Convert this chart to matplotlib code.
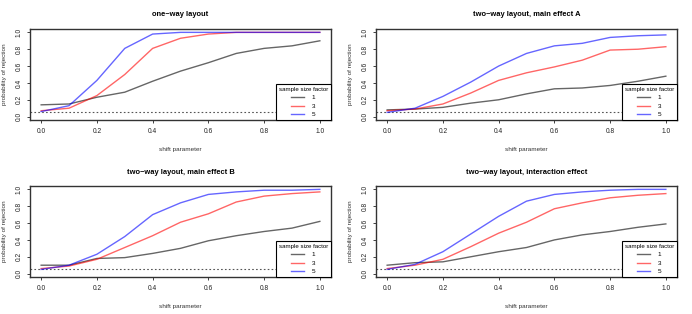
import matplotlib
matplotlib.use("Agg")
import matplotlib.pyplot as plt
import numpy as np

plt.rcParams['font.family'] = ['Liberation Sans', 'DejaVu Sans']

shift = [0.0, 0.1, 0.2, 0.3, 0.4, 0.5, 0.6, 0.7, 0.8, 0.9, 1.0]
titles = ["one\u2212way layout", "two\u2212way layout, main effect A",
          "two\u2212way layout, main effect B", "two\u2212way layout, interaction effect"]
factors = ["1", "3", "5"]

oneway_1 = [0.14, 0.15, 0.23, 0.29, 0.42, 0.54, 0.64, 0.75, 0.81, 0.84, 0.90]
oneway_3 = [0.07, 0.10, 0.25, 0.50, 0.81, 0.93, 0.98, 1.0, 1.0, 1.0, 1.0]
oneway_5 = [0.06, 0.13, 0.43, 0.81, 0.98, 1.0, 1.0, 1.0, 1.0, 1.0, 1.0]

mainA_1 = [0.08, 0.09, 0.11, 0.16, 0.20, 0.27, 0.33, 0.34, 0.37, 0.42, 0.48]
mainA_3 = [0.07, 0.09, 0.15, 0.28, 0.43, 0.52, 0.59, 0.67, 0.79, 0.80, 0.83]
mainA_5 = [0.05, 0.10, 0.24, 0.41, 0.60, 0.75, 0.84, 0.87, 0.94, 0.96, 0.97]

mainB_1 = [0.10, 0.10, 0.18, 0.19, 0.24, 0.30, 0.39, 0.45, 0.50, 0.54, 0.62]
mainB_3 = [0.06, 0.09, 0.17, 0.31, 0.45, 0.61, 0.71, 0.85, 0.92, 0.95, 0.97]
mainB_5 = [0.05, 0.10, 0.23, 0.44, 0.70, 0.84, 0.94, 0.97, 0.99, 0.99, 1.0]

inter_1 = [0.10, 0.13, 0.14, 0.20, 0.26, 0.31, 0.40, 0.46, 0.50, 0.55, 0.59]
inter_3 = [0.06, 0.10, 0.17, 0.32, 0.48, 0.61, 0.77, 0.84, 0.90, 0.93, 0.95]
inter_5 = [0.05, 0.11, 0.26, 0.47, 0.68, 0.86, 0.94, 0.97, 0.99, 1.0, 1.0]

alpha_level = 0.05

panels = [(oneway_1, oneway_3, oneway_5), (mainA_1, mainA_3, mainA_5),
          (mainB_1, mainB_3, mainB_5), (inter_1, inter_3, inter_5)]
colors = ["#000000", "#ff0000", "#0000ff"]

W, H = 692, 314
fig = plt.figure(figsize=(W / 100, H / 100), dpi=100)

def rect(l, t, r, b):
    return [l / W, 1 - b / H, (r - l) / W, (b - t) / H]

rects = [rect(30, 29, 331, 120), rect(376, 29, 677, 120),
         rect(30, 186, 331, 277), rect(376, 186, 677, 277)]

for i, (series, title) in enumerate(zip(panels, titles)):
    ax = fig.add_axes(rects[i])
    ax.axhline(alpha_level, color="#555555", linestyle=(0, (1.5, 2)), linewidth=0.8, zorder=1)
    for s, c, lab in zip(series, colors, factors):
        ax.plot(shift, s, color=c, alpha=0.6, linewidth=1.0, label=lab, zorder=2)
    ax.set_xlim(-0.04, 1.04)
    ax.set_ylim(-0.04, 1.04)
    ax.set_xticks(np.arange(0, 1.01, 0.2))
    ax.set_xticklabels([f"{v:.1f}" for v in np.arange(0, 1.01, 0.2)])
    ax.set_yticks(np.arange(0, 1.01, 0.2))
    ax.set_yticklabels([f"{v:.1f}" for v in np.arange(0, 1.01, 0.2)], rotation=90, va="center")
    ax.tick_params(labelsize=4.8, length=2.5, width=0.6, pad=3, colors="#222222")
    for sp in ax.spines.values():
        sp.set_linewidth(1.0)
        sp.set_color("#333333")
    ax.set_title(title, fontsize=5.4, fontweight="bold", pad=9)
    ax.set_xlabel("shift parameter", fontsize=4.6, labelpad=9, color="#333333")
    ax.set_ylabel("probability of rejection", fontsize=4.6, labelpad=6, color="#333333")
    leg = ax.legend(title="sample size factor", loc="lower right", fontsize=4.6,
                    title_fontsize=4.4, frameon=True, fancybox=False, borderaxespad=0,
                    handlelength=2.0, handletextpad=1.2, labelspacing=0.45,
                    borderpad=0.45, framealpha=1)
    leg.get_frame().set_edgecolor("#000000")
    leg.get_frame().set_linewidth(0.8)
    leg.set_zorder(5)

fig.savefig("out.png", dpi=100)
